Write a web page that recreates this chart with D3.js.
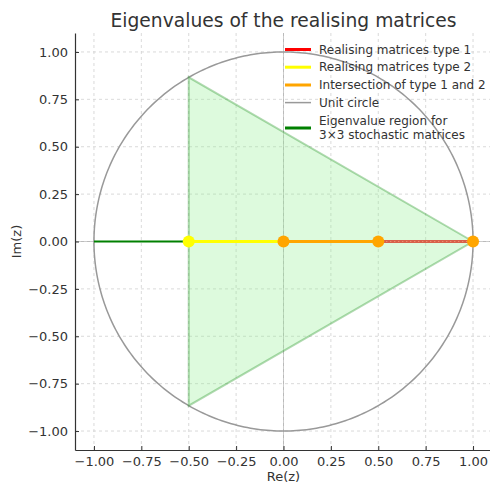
<!DOCTYPE html>
<html>
<head>
<meta charset="utf-8">
<script src="https://cdn.jsdelivr.net/npm/d3@7"></script>
<style>
  body { margin: 0; background: #fff; }
  text { font-family: "DejaVu Sans", sans-serif; fill: #333; }
</style>
</head>
<body>
<svg id="chart" width="490" height="485"></svg>
<script>
// data
var ticks = [-1.00, -0.75, -0.50, -0.25, 0.00, 0.25, 0.50, 0.75, 1.00];
var regionX = [1, -0.5, -0.5];
var regionY = [0, 0.866, -0.866];
var greenSeg = [-1, -0.5];
var type2Seg = [-0.5, 0];
var bothSeg = [0, 0.5];
var type1Seg = [0.5, 1];
var pointsX = [-0.5, 0, 0.5, 1];
var pointColors = ["yellow", "orange", "orange", "orange"];
var legendLabels = ["Realising matrices type 1", "Realising matrices type 2",
  "Intersection of type 1 and 2", "Unit circle", "Eigenvalue region for|3\u00d73 stochastic matrices"];
var legendColors = ["red", "yellow", "orange", "#999", "green"];

var svg = d3.select("#chart");
var margin = {top: 33, right: -2, bottom: 35, left: 75};
var width = 490 - margin.left - margin.right;
var height = 485 - margin.top - margin.bottom;

var x = d3.scaleLinear().domain([-1.1, 1.1]).range([0, width]);
var y = d3.scaleLinear().domain([-1.1, 1.1]).range([height, 0]);

var g = svg.append("g").attr("transform", "translate(" + margin.left + "," + margin.top + ")");

// grid
g.selectAll(".gx").data(ticks).enter().append("line")
  .attr("x1", function(d) { return x(d); }).attr("x2", function(d) { return x(d); })
  .attr("y1", 0).attr("y2", height)
  .style("stroke", "#d0d0d0").style("stroke-dasharray", "3,3").style("stroke-width", 0.8);
g.selectAll(".gy").data(ticks).enter().append("line")
  .attr("y1", function(d) { return y(d); }).attr("y2", function(d) { return y(d); })
  .attr("x1", 0).attr("x2", width)
  .style("stroke", "#d0d0d0").style("stroke-dasharray", "3,3").style("stroke-width", 0.8);

// zero lines
g.append("line").attr("x1", x(0)).attr("x2", x(0)).attr("y1", 0).attr("y2", height)
  .style("stroke", "#999").style("stroke-opacity", 0.5).style("stroke-width", 1);
g.append("line").attr("y1", y(0)).attr("y2", y(0)).attr("x1", 0).attr("x2", width)
  .style("stroke", "#999").style("stroke-opacity", 0.5).style("stroke-width", 1);

// unit circle
var circ = d3.range(0, 361).map(function(a) { var t = a * Math.PI / 180; return [Math.cos(t), Math.sin(t)]; });
var line = d3.line().x(function(d) { return x(d[0]); }).y(function(d) { return y(d[1]); });
g.append("path").attr("d", line(circ)).style("fill", "none").style("stroke", "#999").style("stroke-width", 1.5);

// triangle region
var tri = regionX.map(function(d, i) { return [d, regionY[i]]; });
g.append("path").attr("d", line(tri) + "Z")
  .style("fill", "#90ee90").style("fill-opacity", 0.3)
  .style("stroke", "green").style("stroke-opacity", 0.3).style("stroke-width", 2);

// segments on the real axis
var seg = function(s, color, w) {
  return g.append("line").attr("x1", x(s[0])).attr("x2", x(s[1])).attr("y1", y(0)).attr("y2", y(0))
    .style("stroke", color).style("stroke-width", w);
};
seg(greenSeg, "green", 2);
seg(type2Seg, "yellow", 3);
seg(bothSeg, "orange", 3);
seg(type1Seg, "#d8604a", 3);
seg(type1Seg, "#f0a080", 1).style("stroke-dasharray", "1,3");

g.selectAll(".pt").data(pointsX).enter().append("circle")
  .attr("cx", function(d) { return x(d); }).attr("cy", y(0)).attr("r", 6)
  .style("fill", function(d, i) { return pointColors[i]; });

// axes
var xAxis = d3.axisBottom(x).tickValues(ticks).tickSizeInner(-4).tickSizeOuter(0).tickPadding(7)
  .tickFormat(function(d) { return d3.format(".2f")(d).replace("-", "\u2212"); });
var yAxis = d3.axisLeft(y).tickValues(ticks).tickSizeInner(-4).tickSizeOuter(0).tickPadding(7)
  .tickFormat(function(d) { return d3.format(".2f")(d).replace("-", "\u2212"); });
var ax = g.append("g").attr("transform", "translate(0," + height + ")").call(xAxis);
var ay = g.append("g").call(yAxis);
[ax, ay].forEach(function(a) {
  a.selectAll("text").style("font-size", "13px").style("fill", "#333").style("font-family", "DejaVu Sans");
  a.selectAll("line").style("stroke", "#333");
  a.select(".domain").style("stroke", "#333").style("stroke-width", 1.2);
});

// labels
svg.append("text").attr("x", margin.left + x(0)).attr("y", 27).attr("text-anchor", "middle")
  .style("font-size", "18.7px").text("Eigenvalues of the realising matrices");
svg.append("text").attr("x", margin.left + x(0)).attr("y", 481).attr("text-anchor", "middle")
  .style("font-size", "13px").text("Re(z)");
svg.append("text").attr("transform", "translate(21," + (margin.top + y(0)) + ") rotate(-90)")
  .attr("text-anchor", "middle").style("font-size", "13px").text("Im(z)");

// legend
var ly = [49.5, 67.2, 85, 102.6, 128];
legendLabels.forEach(function(lab, i) {
  svg.append("line").attr("x1", 285).attr("x2", 311).attr("y1", ly[i]).attr("y2", ly[i])
    .style("stroke", legendColors[i]).style("stroke-width", i == 3 ? 1.5 : 3);
  var parts = lab.split("|");
  var t = svg.append("text").attr("x", 319).attr("y", parts.length > 1 ? ly[i] - 3 : ly[i] + 4).style("font-size", "12px");
  parts.forEach(function(p, j) {
    t.append("tspan").attr("x", 319).attr("dy", j == 0 ? 0 : 14).text(p);
  });
});
</script>
</body>
</html>
